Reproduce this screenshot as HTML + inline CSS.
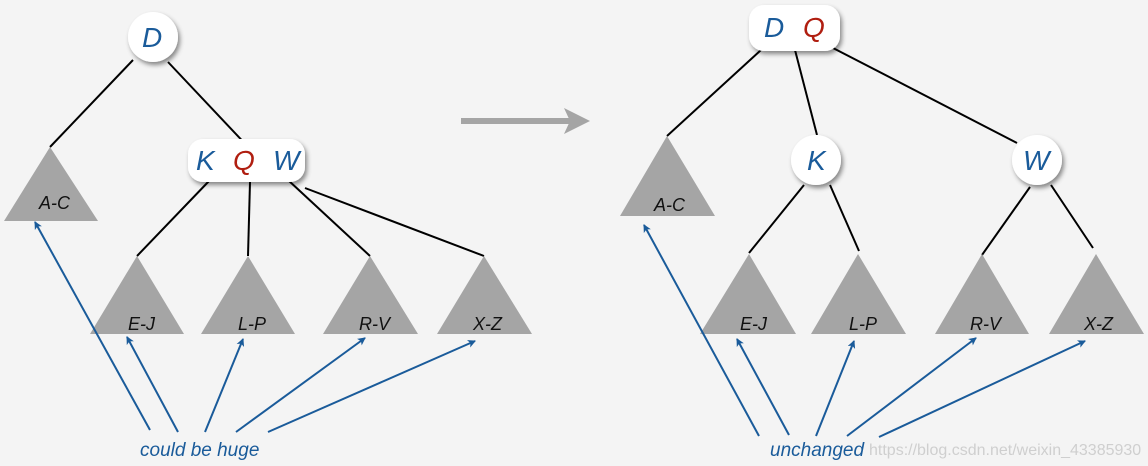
<!DOCTYPE html>
<html><head><meta charset="utf-8"><style>
html,body{margin:0;padding:0;background:#f4f4f4;}
svg{display:block;}
text{font-family:"Liberation Sans",sans-serif;font-style:italic;}
</style></head><body>
<svg width="1148" height="466" viewBox="0 0 1148 466" xmlns="http://www.w3.org/2000/svg">
<defs>
<filter id="sh" x="-30%" y="-30%" width="160%" height="160%"><feDropShadow dx="2" dy="3" stdDeviation="2.5" flood-color="#000" flood-opacity="0.45"/></filter>
<marker id="ah" markerWidth="8" markerHeight="8" refX="7" refY="4" orient="auto" markerUnits="userSpaceOnUse"><path d="M0,0 L8,4 L0,8 L2,4 Z" fill="#1a5b9a"/></marker>
</defs>
<rect width="1148" height="466" fill="#f4f4f4"/>
<g stroke="#000" stroke-width="2" fill="none">
<line x1="133" y1="60" x2="50" y2="147"/>
<line x1="168" y1="62" x2="251" y2="150"/>
<line x1="210" y1="180" x2="137" y2="256"/>
<line x1="250" y1="182" x2="248" y2="256"/>
<line x1="288" y1="180" x2="370" y2="256"/>
<line x1="305" y1="188" x2="484" y2="256"/>
<line x1="761" y1="50" x2="667" y2="136"/>
<line x1="795" y1="50" x2="817" y2="135"/>
<line x1="833" y1="48" x2="1017" y2="143"/>
<line x1="804" y1="185" x2="749" y2="253"/>
<line x1="830" y1="185" x2="859" y2="251"/>
<line x1="1030" y1="187" x2="982" y2="255"/>
<line x1="1051" y1="185" x2="1093" y2="248"/>
</g>
<g fill="#a5a5a5">
<polygon points="50,147 4,221 98,221"/>
<polygon points="137,256 90,334 184,334"/>
<polygon points="248,256 201,334 295,334"/>
<polygon points="370,256 323,334 418,334"/>
<polygon points="484,256 437,334 532,334"/>
<polygon points="667,136 620,216 715,216"/>
<polygon points="749,254 700,334 796,334"/>
<polygon points="858,254 811,334 906,334"/>
<polygon points="982,254 935,334 1029,334"/>
<polygon points="1096,254 1049,334 1144,334"/>
</g>
<g font-size="18" fill="#111">
<text x="39" y="209">A-C</text>
<text x="128" y="330">E-J</text>
<text x="238" y="330">L-P</text>
<text x="359" y="330">R-V</text>
<text x="473" y="330">X-Z</text>
<text x="654" y="211">A-C</text>
<text x="740" y="330">E-J</text>
<text x="849" y="330">L-P</text>
<text x="970" y="330">R-V</text>
<text x="1084" y="330">X-Z</text>
</g>
<g filter="url(#sh)" fill="#fff">
<circle cx="153" cy="37" r="25"/>
<rect x="188" y="139" width="117" height="43" rx="15"/>
<rect x="749" y="5" width="91" height="46" rx="15"/>
<circle cx="816" cy="160" r="25"/>
<circle cx="1037" cy="160" r="25"/>
</g>
<g font-size="28">
<text x="142" y="47" fill="#1a5b9a">D</text>
<text x="196" y="170" fill="#1a5b9a">K</text>
<text x="233" y="170" fill="#b01e10">Q</text>
<text x="273" y="170" fill="#1a5b9a">W</text>
<text x="764" y="37" fill="#1a5b9a">D</text>
<text x="803" y="37" fill="#b01e10">Q</text>
<text x="807" y="170" fill="#1a5b9a">K</text>
<text x="1023" y="170" fill="#1a5b9a">W</text>
</g>
<line x1="461" y1="121" x2="572" y2="121" stroke="#a5a5a5" stroke-width="6"/>
<polygon points="564,108 590,121 564,134 570,121" fill="#a5a5a5"/>
<g stroke="#1a5b9a" stroke-width="2" marker-end="url(#ah)">
<line x1="150" y1="430" x2="35" y2="222"/>
<line x1="178" y1="432" x2="127" y2="337"/>
<line x1="205" y1="432" x2="243" y2="339"/>
<line x1="236" y1="432" x2="365" y2="338"/>
<line x1="268" y1="432" x2="475" y2="341"/>
<line x1="759" y1="436" x2="644" y2="225"/>
<line x1="789" y1="435" x2="737" y2="339"/>
<line x1="816" y1="436" x2="854" y2="341"/>
<line x1="847" y1="436" x2="976" y2="338"/>
<line x1="879" y1="437" x2="1085" y2="341"/>
</g>
<text x="140" y="456" font-size="19" fill="#1a5b9a">could be huge</text>
<text x="770" y="456" font-size="19" fill="#1a5b9a">unchanged</text>
<text x="869" y="455" font-size="16" fill="#cfcfcf" style="font-style:normal">https://blog.csdn.net/weixin_43385930</text>
</svg>
</body></html>
